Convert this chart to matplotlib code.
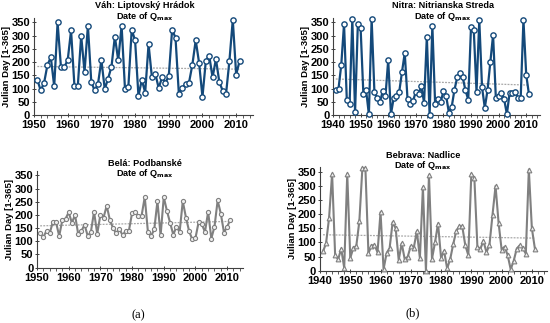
import numpy as np
import matplotlib
matplotlib.use("Agg")
import matplotlib.pyplot as plt
from matplotlib.ticker import MultipleLocator

plt.rcParams['font.family'] = ['Liberation Sans', 'DejaVu Sans']

years_vah = list(range(1951, 2012))
vah = [132, 93, 122, 190, 218, 108, 350, 182, 182, 207,
       320, 110, 110, 300, 163, 338, 125, 93, 118, 208,
       98, 138, 183, 297, 207, 338, 100, 105, 322, 283,
       72, 133, 85, 268, 142, 157, 102, 142, 122, 147,
       323, 292, 78, 103, 118, 122, 190, 283, 197, 68,
       205, 225, 142, 212, 125, 92, 80, 205, 360, 153, 203]

years_nitra = list(range(1941, 2012))
nitra = [93, 100, 190, 345, 58, 40, 363, 12, 345, 330,
         80, 93, 2, 363, 88, 63, 48, 90, 70, 208,
         3, 65, 73, 88, 163, 235, 60, 42, 53, 88,
         80, 108, 47, 297, 0, 338, 43, 62, 48, 90,
         72, 8, 30, 95, 142, 158, 142, 93, 58, 333,
         322, 87, 360, 105, 27, 95, 200, 303, 65, 72,
         85, 60, 3, 85, 83, 88, 63, 63, 360, 153, 78]

years_bela = list(range(1951, 2012))
bela = [130, 115, 140, 130, 173, 172, 120, 180, 185, 210,
        170, 200, 127, 138, 163, 120, 135, 212, 128, 200,
        190, 235, 180, 150, 130, 148, 122, 140, 140, 207,
        210, 195, 197, 268, 135, 120, 145, 252, 122, 268,
        215, 170, 125, 155, 135, 252, 190, 138, 107, 112,
        173, 165, 135, 212, 110, 155, 255, 205, 133, 155, 182]

years_bebrava = list(range(1941, 2012))
bebrava = [68, 97, 187, 343, 55, 40, 78, 10, 343, 45,
           80, 88, 175, 363, 363, 62, 88, 92, 65, 207,
           5, 62, 80, 172, 150, 38, 97, 40, 50, 88,
           82, 140, 45, 295, 0, 338, 42, 100, 167, 45,
           70, 8, 40, 93, 140, 157, 157, 90, 55, 343,
           328, 85, 78, 105, 65, 92, 198, 300, 170, 75,
           85, 55, 5, 35, 78, 90, 80, 60, 358, 150, 78]

titles = ["Váh: Liptovský Hrádok", "Nitra: Nitrianska Streda",
          "Belá: Podbanské", "Bebrava: Nadlice"]
ylabel = "Julian Day [1-365]"
yticks = [0, 50, 100, 150, 200, 250, 300, 350]

W, H = 550, 323
fig = plt.figure(figsize=(5.5, 3.23), dpi=100)

def box(l, r, b, t):
    return [l / W, 1 - b / H, (r - l) / W, (b - t) / H]

boxes = [
    box(34, 253, 115, 18),
    box(333, 540, 115, 18),
    box(37, 243, 267.5, 171),
    box(320, 547, 270.7, 167),
]
title_pos = [(145, 6), (443, 6), (145, 163), (423, 155)]
datasets = [(years_vah, vah), (years_nitra, nitra),
            (years_bela, bela), (years_bebrava, bebrava)]
xstarts = [1950, 1940, 1950, 1940]
blue = '#14497a'
gray = '#808080'
styles = [
    dict(color=blue, marker='o', mfc='white', mec=blue, ms=3.8, mew=1.0, lw=1.6),
    dict(color=blue, marker='o', mfc='white', mec=blue, ms=3.8, mew=1.0, lw=1.6),
    dict(color=gray, marker='o', mfc='#eeeeee', mec=gray, ms=3.0, mew=0.8, lw=1.5),
    dict(color=gray, marker='^', mfc='#eeeeee', mec=gray, ms=3.4, mew=0.8, lw=1.5),
]

for i, (bx, (yrs, vals), x0, st) in enumerate(zip(boxes, datasets, xstarts, styles)):
    ax = fig.add_axes(bx)
    ax.patch.set_alpha(0)
    yrs = np.array(yrs)
    vals = np.array(vals, dtype=float)
    ax.plot(yrs, vals, zorder=3, clip_on=False, **st)
    c = np.polyfit(yrs, vals, 1)
    ax.plot([yrs[0], yrs[-1]], np.polyval(c, [yrs[0], yrs[-1]]),
            color='#a8a8a8', lw=0.9, ls=(0, (1.5, 1)), zorder=2)
    ax.set_xlim(x0, 2015)
    ax.set_ylim(0, 367)
    ax.set_yticks(yticks)
    ax.set_xticks(list(range(x0, 2011, 10)))
    ax.xaxis.set_minor_locator(MultipleLocator(2))
    for s in ['top', 'right']:
        ax.spines[s].set_visible(False)
    for s in ['left', 'bottom']:
        ax.spines[s].set_color('#404040')
        ax.spines[s].set_linewidth(0.8)
    ax.tick_params(axis='both', which='major', labelsize=8, length=3, width=0.7,
                   color='#404040', pad=1.2, direction='inout')
    ax.tick_params(axis='x', which='major', pad=2.2)
    ax.tick_params(axis='x', which='minor', length=2, width=0.6, color='#404040',
                   direction='out')
    for lab in ax.get_xticklabels() + ax.get_yticklabels():
        lab.set_fontweight('bold')
    ax.set_ylabel(ylabel, fontsize=6.8, fontweight='bold', labelpad=0.5)
    tx, ty = title_pos[i]
    fig.text(tx / W, 1 - ty / H, titles[i], ha='center', va='center',
             fontsize=6.6, fontweight='bold')
    fig.text(tx / W, 1 - (ty + 10.5) / H, "Date of Q$_{\\mathbf{max}}$",
             ha='center', va='center', fontsize=6.6, fontweight='bold')

fig.text(138 / W, 1 - 315 / H, "(a)", ha='center', va='center',
         fontsize=9, family=['Liberation Serif', 'DejaVu Serif'])
fig.text(413 / W, 1 - 313 / H, "(b)", ha='center', va='center',
         fontsize=9, family=['Liberation Serif', 'DejaVu Serif'])

fig.savefig("out.png", dpi=100, facecolor='white')
